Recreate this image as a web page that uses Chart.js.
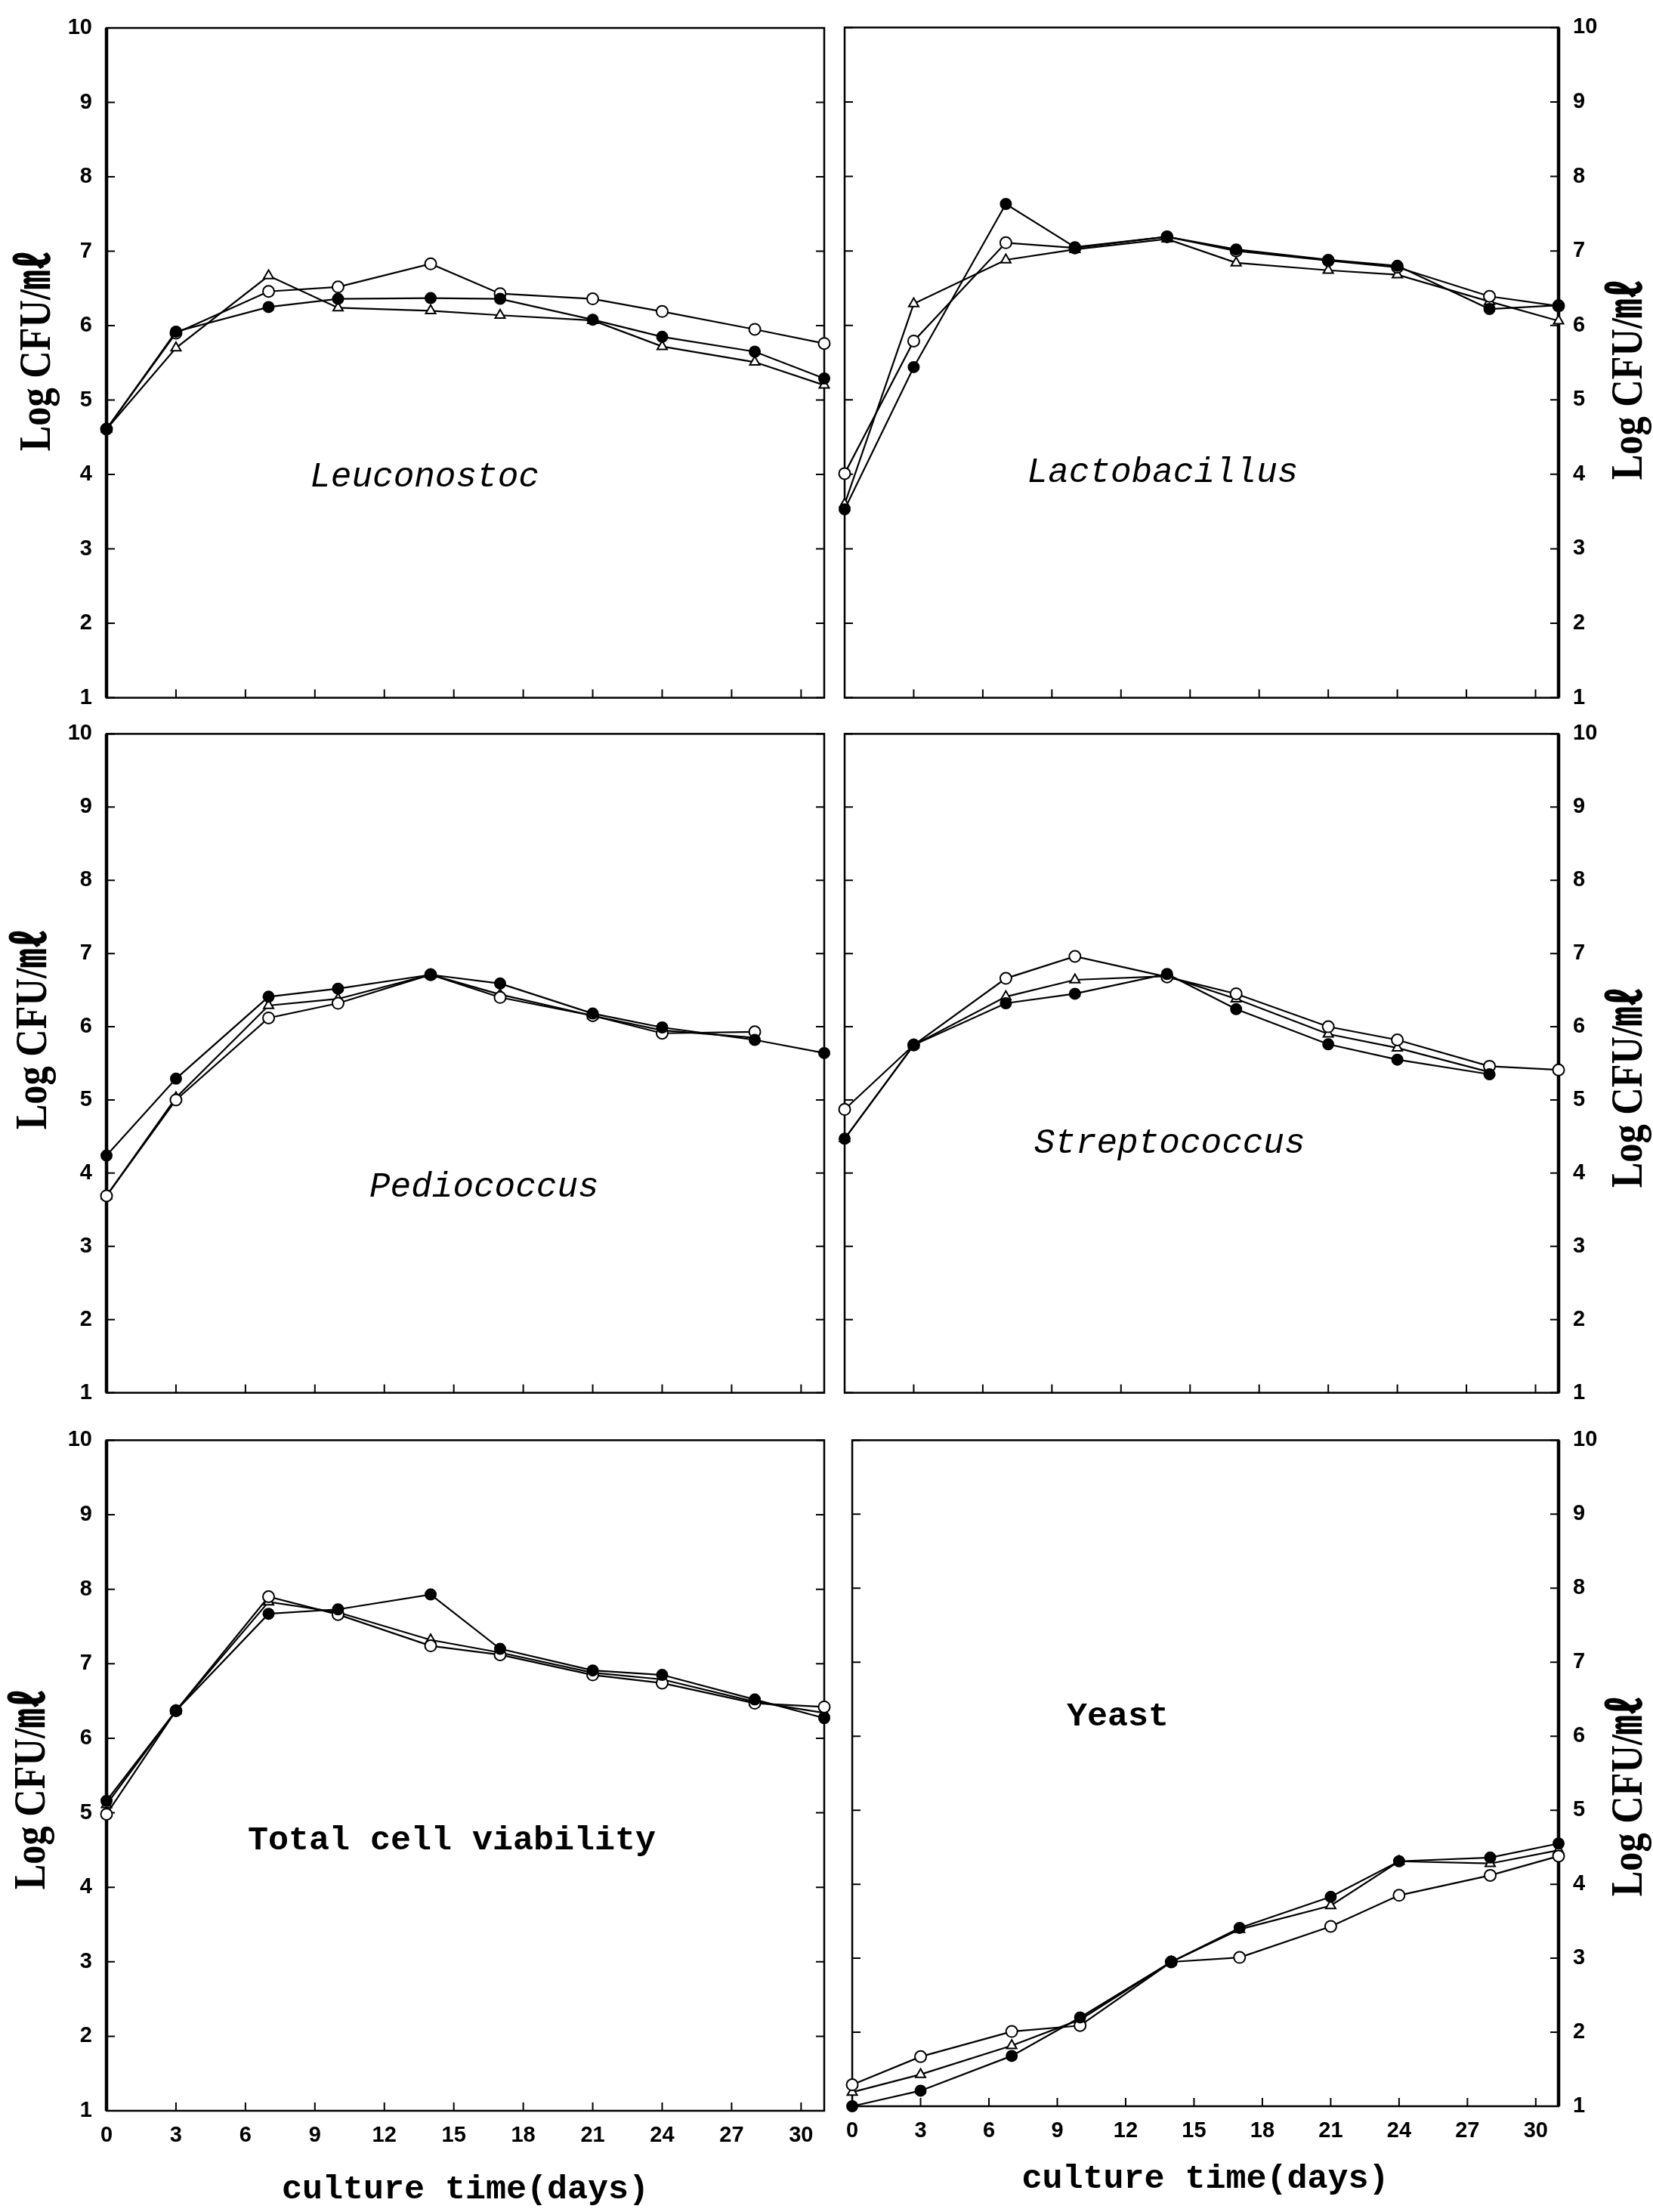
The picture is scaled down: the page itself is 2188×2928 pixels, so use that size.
<!DOCTYPE html>
<html>
<head>
<meta charset="utf-8">
<script src="https://cdn.jsdelivr.net/npm/chart.js@4.4.1/dist/chart.umd.min.js"></script>
<style>
  html, body { margin: 0; padding: 0; background: #ffffff; }
  body { width: 2188px; height: 2928px; position: relative; overflow: hidden; }
  canvas { position: absolute; }
</style>
</head>
<body>
<canvas id="c1"></canvas>
<canvas id="c2"></canvas>
<canvas id="c3"></canvas>
<canvas id="c4"></canvas>
<canvas id="c5"></canvas>
<canvas id="c6"></canvas>
<script>
// ---------------- DATA ----------------
const days = [0, 3, 7, 10, 14, 17, 21, 24, 28, 31];
const xTickValues = [0, 3, 6, 9, 12, 15, 18, 21, 24, 27, 30];
const yTickValues = [1, 2, 3, 4, 5, 6, 7, 8, 9, 10];
const panelNames = ['Leuconostoc', 'Lactobacillus', 'Pediococcus', 'Streptococcus', 'Total cell viability', 'Yeast'];
const yAxisTitle = 'Log CFU/㎖';
const xAxisTitle = 'culture time(days)';

const leuconostocFilled   = [4.61, 5.92, 6.25, 6.36, 6.37, 6.36, 6.08, 5.85, 5.65, 5.29];
const leuconostocCircle   = [4.61, 5.90, 6.46, 6.52, 6.83, 6.43, 6.36, 6.19, 5.95, 5.76];
const leuconostocTriangle = [4.61, 5.70, 6.67, 6.24, 6.20, 6.14, 6.07, 5.72, 5.51, 5.20];

const lactobacillusFilled   = [3.53, 5.44, 7.63, 7.05, 7.19, 7.02, 6.88, 6.80, 6.22, 6.27];
const lactobacillusCircle   = [4.01, 5.79, 7.11, 7.04, 7.19, 7.00, 6.87, 6.78, 6.39, 6.26];
const lactobacillusTriangle = [3.60, 6.29, 6.88, 7.02, 7.16, 6.84, 6.74, 6.68, 6.32, 6.06];

const pediococcusFilled   = [4.24, 5.29, 6.41, 6.52, 6.71, 6.59, 6.18, 5.99, 5.82, 5.64];
const pediococcusCircle   = [3.69, 5.00, 6.12, 6.32, 6.71, 6.40, 6.15, 5.91, 5.93, null];
const pediococcusTriangle = [3.69, 5.03, 6.29, 6.38, 6.71, 6.44, 6.15, 5.95, 5.85, null];

const streptococcusFilled   = [4.47, 5.75, 6.32, 6.45, 6.72, 6.24, 5.76, 5.55, 5.35, null];
const streptococcusCircle   = [4.87, 5.75, 6.66, 6.96, 6.68, 6.45, 6.00, 5.82, 5.46, 5.41];
const streptococcusTriangle = [4.47, 5.75, 6.41, 6.64, 6.69, 6.38, 5.90, 5.71, 5.38, null];

const totalFilled   = [5.16, 6.37, 7.67, 7.73, 7.93, 7.20, 6.91, 6.85, 6.52, 6.27];
const totalCircle   = [4.98, 6.37, 7.90, 7.66, 7.24, 7.12, 6.85, 6.74, 6.47, 6.42];
const totalTriangle = [5.11, 6.37, 7.83, 7.69, 7.32, 7.15, 6.88, 6.79, 6.49, 6.34];

const yeastFilled   = [1.00, 1.21, 1.68, 2.20, 2.95, 3.41, 3.83, 4.31, 4.36, 4.55];
const yeastCircle   = [1.29, 1.67, 2.01, 2.09, 2.95, 3.01, 3.43, 3.85, 4.12, 4.38];
const yeastTriangle = [1.19, 1.43, 1.82, 2.17, 2.95, 3.39, 3.71, 4.31, 4.28, 4.46];

// ---------------- STYLE / LAYOUT ----------------
const INK = '#000000';
const tickFont = { family: "'Liberation Sans', Arial, sans-serif", size: 29, weight: 'bold' };
const xTitleFont = { family: "'Liberation Mono', 'DejaVu Sans Mono', monospace", size: 45, weight: 'bold' };
const italicNameFont = "italic 46px 'Liberation Mono', 'DejaVu Sans Mono', monospace";
const boldNameFont = "bold 45px 'Liberation Mono', 'DejaVu Sans Mono', monospace";
const yTitleFont = "bold 60px 'Liberation Serif', 'Noto Sans CJK KR', serif";

const decorPlugin = {
  id: 'decor',
  beforeDatasetsDraw(chart, args, opts) {
    const ctx = chart.ctx;
    const { left, right, top, bottom } = chart.chartArea;
    const xs = chart.scales.x, ys = chart.scales.y;
    ctx.save();
    ctx.strokeStyle = INK;
    ctx.lineWidth = 2.5;
    ctx.strokeRect(left, top, right - left, bottom - top);
    ctx.lineWidth = 4.5;
    ctx.beginPath();
    const ax = opts.side === 'left' ? left : right;
    ctx.moveTo(ax, top); ctx.lineTo(ax, bottom);
    ctx.stroke();
    ctx.lineWidth = 2;
    ctx.beginPath();
    ys.ticks.forEach(t => {
      const py = ys.getPixelForValue(t.value);
      ctx.moveTo(left, py); ctx.lineTo(left + 11, py);
      ctx.moveTo(right, py); ctx.lineTo(right - 11, py);
    });
    xs.ticks.forEach(t => {
      const px = xs.getPixelForValue(t.value);
      ctx.moveTo(px, bottom); ctx.lineTo(px, bottom - 11);
    });
    ctx.stroke();
    ctx.restore();
  },
  afterDatasetsDraw(chart, args, opts) {
    const ctx = chart.ctx;
    const xs = chart.scales.x, ys = chart.scales.y;
    ctx.save();
    ctx.fillStyle = INK;
    ctx.textAlign = 'center';
    ctx.textBaseline = 'middle';
    ctx.font = opts.nameFont;
    ctx.fillText(opts.name, xs.getPixelForValue(opts.nameX), ys.getPixelForValue(opts.nameY));
    ctx.translate(opts.titleX, opts.titleY);
    ctx.rotate(-Math.PI / 2);
    ctx.scale(0.84, 1);
    ctx.font = yTitleFont;
    ctx.fillText(yAxisTitle, 0, 0);
    ctx.restore();
  }
};

function datasets(filled, circle, triangle) {
  const mk = (vals, style, bg, r) => ({
    data: days.map((d, i) => ({ x: d, y: vals[i] })),
    borderColor: INK,
    borderWidth: 2.2,
    pointStyle: style,
    pointRadius: r,
    pointBorderWidth: 2,
    pointBackgroundColor: bg,
    pointBorderColor: INK,
    tension: 0,
    fill: false,
    clip: false,
    spanGaps: false
  });
  return [mk(filled, 'circle', INK, 7), mk(circle, 'circle', '#ffffff', 7.5), mk(triangle, 'triangle', '#ffffff', 7.5)];
}

const panels = [
  { id: 'c1', left: 0,    top: 0,    width: 1104, height: 960,  area: { l: 141,  r: 1091, t: 37,   b: 934 },  side: 'left',  xLabels: false,
    series: [leuconostocFilled, leuconostocCircle, leuconostocTriangle], name: panelNames[0], nameFont: italicNameFont, nameX: 13.74, nameY: 3.96, titleX: 50, titleY: 465 },
  { id: 'c2', left: 1104, top: 0,    width: 1084, height: 960,  area: { l: 1118, r: 2063, t: 29,   b: 928 },  side: 'right', xLabels: false,
    series: [lactobacillusFilled, lactobacillusCircle, lactobacillusTriangle], name: panelNames[1], nameFont: italicNameFont, nameX: 13.81, nameY: 4.02, titleX: 1053, titleY: 503 },
  { id: 'c3', left: 0,    top: 935,  width: 1104, height: 945,  area: { l: 141,  r: 1091, t: 960,  b: 1862 }, side: 'left',  xLabels: false,
    series: [pediococcusFilled, pediococcusCircle, pediococcusTriangle], name: panelNames[2], nameFont: italicNameFont, nameX: 16.31, nameY: 3.80, titleX: 45, titleY: 428 },
  { id: 'c4', left: 1104, top: 935,  width: 1084, height: 945,  area: { l: 1118, r: 2063, t: 955,  b: 1858 }, side: 'right', xLabels: false,
    series: [streptococcusFilled, streptococcusCircle, streptococcusTriangle], name: panelNames[3], nameFont: italicNameFont, nameX: 14.11, nameY: 4.40, titleX: 1053, titleY: 505 },
  { id: 'c5', left: 0,    top: 1870, width: 1104, height: 1058, area: { l: 141,  r: 1091, t: 1894, b: 2794 }, side: 'left',  xLabels: true, xTitlePad: 2,
    series: [totalFilled, totalCircle, totalTriangle], name: panelNames[4], nameFont: boldNameFont, nameX: 14.91, nameY: 4.62, titleX: 43, titleY: 499 },
  { id: 'c6', left: 1104, top: 1870, width: 1084, height: 1058, area: { l: 1118, r: 2063, t: 1889, b: 2788 }, side: 'right', xLabels: true, xTitlePad: 16,
    series: [yeastFilled, yeastCircle, yeastTriangle], name: panelNames[5], nameFont: boldNameFont, nameX: 11.65, nameY: 6.26, titleX: 1053, titleY: 508 }
];

panels.forEach(p => {
  const cv = document.getElementById(p.id);
  cv.width = p.width; cv.height = p.height;
  cv.style.left = p.left + 'px'; cv.style.top = p.top + 'px';
  cv.style.width = p.width + 'px'; cv.style.height = p.height + 'px';
  const yWidth = p.side === 'left' ? (p.area.l - p.left) : (p.left + p.width - p.area.r);
  const xHeight = p.top + p.height - p.area.b;
  const padding = p.side === 'left'
    ? { left: 0, right: p.left + p.width - p.area.r, top: p.area.t - p.top, bottom: 0 }
    : { left: p.area.l - p.left, right: 0, top: p.area.t - p.top, bottom: 0 };

  new Chart(cv, {
    type: 'line',
    data: { datasets: datasets(p.series[0], p.series[1], p.series[2]) },
    plugins: [decorPlugin],
    options: {
      responsive: false,
      animation: false,
      devicePixelRatio: 1,
      layout: { padding: padding },
      plugins: {
        legend: { display: false },
        tooltip: { enabled: false },
        decor: { side: p.side, name: p.name, nameFont: p.nameFont, nameX: p.nameX, nameY: p.nameY, titleX: p.titleX, titleY: p.titleY }
      },
      scales: {
        x: {
          type: 'linear', position: 'bottom', min: 0, max: 31,
          afterBuildTicks: s => { s.ticks = xTickValues.map(v => ({ value: v })); },
          afterFit: s => { s.height = xHeight; },
          grid: { display: false, drawTicks: false },
          border: { display: false },
          ticks: { display: p.xLabels, font: tickFont, color: INK, padding: 16, autoSkip: false, maxRotation: 0 },
          title: { display: p.xLabels, text: xAxisTitle, font: xTitleFont, color: INK, padding: { top: 0, bottom: p.xTitlePad || 0 } }
        },
        y: {
          type: 'linear', position: p.side, min: 1, max: 10,
          afterBuildTicks: s => { s.ticks = yTickValues.map(v => ({ value: v })); },
          afterFit: s => { s.width = yWidth; },
          grid: { display: false, drawTicks: false },
          border: { display: false },
          ticks: { font: tickFont, color: INK, padding: 19 }
        }
      }
    }
  });
});
</script>
</body>
</html>
